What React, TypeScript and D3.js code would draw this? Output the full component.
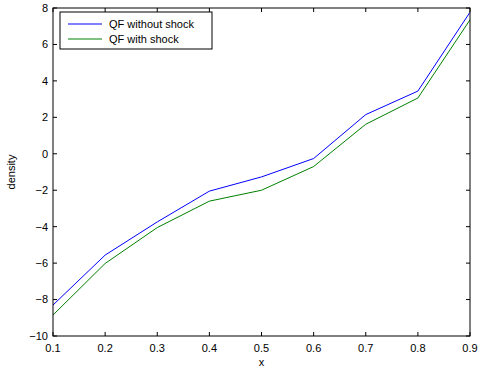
import React, { useRef, useEffect } from 'react';
import * as d3 from 'd3';

// values
const xs = [0.1, 0.2, 0.3, 0.4, 0.5, 0.6, 0.7, 0.8, 0.9];
const withoutShock = [-8.3, -5.56, -3.74, -2.05, -1.27, -0.26, 2.15, 3.44, 7.77];
const withShock = [-8.85, -6.02, -4.05, -2.6, -2.0, -0.7, 1.62, 3.06, 7.35];
const xTicks = [0.1, 0.2, 0.3, 0.4, 0.5, 0.6, 0.7, 0.8, 0.9];
const yTicks = [-10, -8, -6, -4, -2, 0, 2, 4, 6, 8];
const seriesNames = ['QF without shock', 'QF with shock'];
const seriesColors = ['#0000ff', '#008000'];

const W = 478;
const H = 372;
const margin = { top: 8, right: 8, bottom: 36, left: 53 };

const App: React.FC = () => {
  const svgRef = useRef<SVGSVGElement>(null);

  useEffect(() => {
    if (!svgRef.current) return;
    const root = d3.select(svgRef.current);
    root.selectAll('*').remove();

    const iw = W - margin.left - margin.right;
    const ih = H - margin.top - margin.bottom;
    const x = d3.scaleLinear().domain([0.1, 0.9]).range([0, iw]);
    const y = d3.scaleLinear().domain([-10, 8]).range([ih, 0]);
    const font = 'Liberation Sans, Arial, Helvetica, sans-serif';

    const g = root.append('g').attr('transform', `translate(${margin.left},${margin.top})`);

    g.append('rect')
      .attr('x', 0).attr('y', 0).attr('width', iw).attr('height', ih)
      .attr('fill', '#fff');

    // series
    const line = d3.line<number>()
      .x((_, i) => x(xs[i]))
      .y(d => y(d));
    [withoutShock, withShock].forEach((vals, k) => {
      g.append('path')
        .datum(vals)
        .attr('d', line)
        .attr('fill', 'none')
        .attr('stroke', seriesColors[k])
        .attr('stroke-width', 1);
    });

    // inward ticks on all sides
    const tl = 4;
    xTicks.forEach(t => {
      g.append('line').attr('x1', x(t)).attr('x2', x(t)).attr('y1', ih).attr('y2', ih - tl)
        .attr('stroke', '#000');
      g.append('line').attr('x1', x(t)).attr('x2', x(t)).attr('y1', 0).attr('y2', tl)
        .attr('stroke', '#000');
      g.append('text').attr('x', x(t)).attr('y', ih + 16)
        .attr('text-anchor', 'middle').attr('font-family', font).attr('font-size', 11)
        .text(String(t));
    });
    yTicks.forEach(t => {
      g.append('line').attr('x1', 0).attr('x2', tl).attr('y1', y(t)).attr('y2', y(t))
        .attr('stroke', '#000');
      g.append('line').attr('x1', iw).attr('x2', iw - tl).attr('y1', y(t)).attr('y2', y(t))
        .attr('stroke', '#000');
      g.append('text').attr('x', -5).attr('y', y(t)).attr('dy', '0.35em')
        .attr('text-anchor', 'end').attr('font-family', font).attr('font-size', 11)
        .text(t < 0 ? `\u2212${Math.abs(t)}` : String(t));
    });

    g.append('rect')
      .attr('x', 0).attr('y', 0).attr('width', iw).attr('height', ih)
      .attr('fill', 'none').attr('stroke', '#000').attr('stroke-width', 1);

    // axis labels
    g.append('text').attr('x', iw / 2).attr('y', ih + 30)
      .attr('text-anchor', 'middle').attr('font-family', font).attr('font-size', 11)
      .text('x');
    g.append('text')
      .attr('transform', `translate(${-38},${ih / 2}) rotate(-90)`)
      .attr('text-anchor', 'middle').attr('font-family', font).attr('font-size', 11)
      .text('density');

    // legend
    const lg = g.append('g').attr('transform', 'translate(7,4)');
    lg.append('rect').attr('x', 0).attr('y', 0).attr('width', 152).attr('height', 37)
      .attr('fill', '#fff').attr('stroke', '#000');
    seriesNames.forEach((name, i) => {
      const ly = 12 + i * 15;
      lg.append('line').attr('x1', 8).attr('x2', 42).attr('y1', ly).attr('y2', ly)
        .attr('stroke', seriesColors[i]);
      lg.append('text').attr('x', 49).attr('y', ly).attr('dy', '0.35em')
        .attr('font-family', font).attr('font-size', 11)
        .text(name);
    });
  }, []);

  return (
    <svg ref={svgRef} width={W} height={H}
      style={{ position: 'absolute', left: 0, top: 0, background: '#fff' }} />
  );
};

export default App;
